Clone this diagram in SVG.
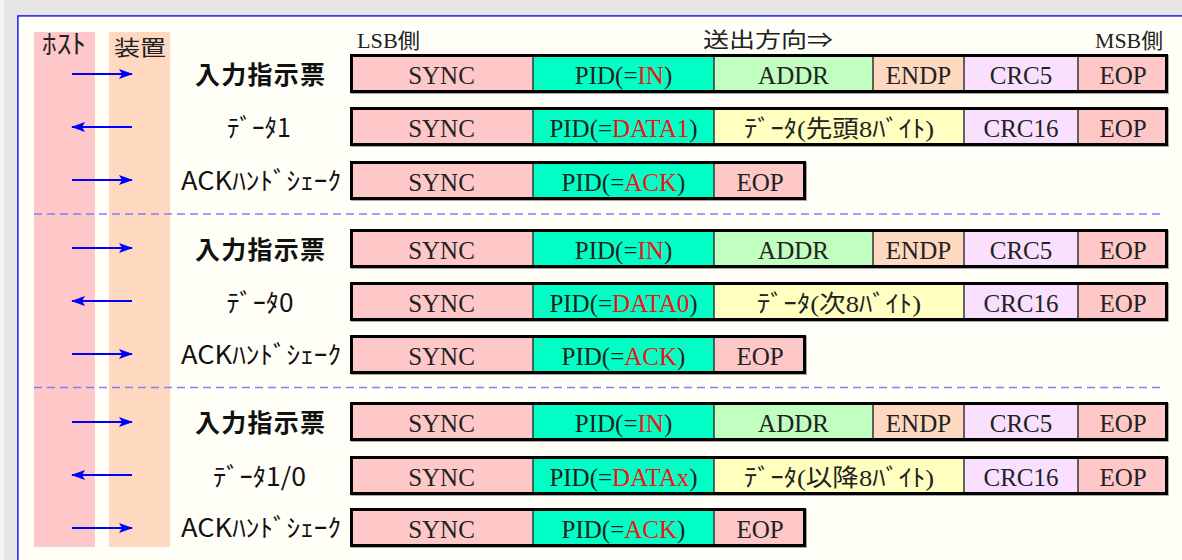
<svg xmlns="http://www.w3.org/2000/svg" width="1182" height="560" viewBox="0 0 1182 560">
<defs>
<style>
.sync{fill:#ffc8c8}
.pid{fill:#00ffc4}
.addr{fill:#c0ffc0}
.endp{fill:#ffd8c0}
.crc{fill:#fae0ff}
.eop{fill:#ffc8c8}
.data{fill:#ffffc0}
.box{fill:none;stroke:#000;stroke-width:3}
.shadow{fill:#a8a8a8}
.sep{stroke:#333;stroke-width:1.5}
.ft{font-family:"Liberation Serif","Noto Sans CJK JP",serif;font-size:25px;fill:#222;text-anchor:middle}
.fj{font-size:24px}
.red{fill:#ee1515}
.lbl{font-family:"Noto Sans CJK JP","Noto Sans",sans-serif;font-size:25px;fill:#111;text-anchor:middle}
.lblb{font-family:"Noto Sans CJK JP","Noto Sans",sans-serif;font-size:25px;font-weight:bold;fill:#111;text-anchor:middle}
.hdr{font-family:"Liberation Serif","Noto Sans CJK JP",serif;font-size:21px;fill:#222}
.arr{stroke:#0000ff;stroke-width:2;fill:none}
.dash{stroke:#7f7fff;stroke-width:1.5;stroke-dasharray:8 5;fill:none}
</style>
<marker id="ah" viewBox="0 0 14 10" refX="13" refY="5" markerWidth="14" markerHeight="10" markerUnits="userSpaceOnUse" orient="auto">
<path d="M0,0 L14,5 L0,10 L3,5 Z" fill="#0000ff"/>
</marker>
</defs>

<rect x="0" y="0" width="1182" height="560" fill="#e6e6e6"/>
<rect x="0" y="0" width="4" height="560" fill="#f4f4f4"/>
<path id="panel" d="M18,580 V16 H1200" fill="none" stroke="#0000ff" stroke-width="1.5"/>
<rect x="18.75" y="16.75" width="1200" height="600" fill="#fffff8"/>

<g id="columns">
<rect x="34" y="32" width="61" height="515" fill="#ffc8c8"/>
<rect x="109" y="32" width="61" height="515" fill="#ffd8c0"/>
<text x="64" y="54" font-family="Noto Sans CJK JP, sans-serif" font-size="27" fill="#222" text-anchor="middle" textLength="44" lengthAdjust="spacingAndGlyphs">ﾎｽﾄ</text>
<text x="140" y="55" class="hdr" text-anchor="middle" font-size="26" textLength="52" lengthAdjust="spacingAndGlyphs">装置</text>
</g>

<g id="header">
<text x="357" y="48" class="hdr" textLength="63" lengthAdjust="spacingAndGlyphs">LSB側</text>
<text x="703" y="47" class="hdr" font-size="26" textLength="130" lengthAdjust="spacingAndGlyphs">送出方向⇒</text>
<text x="1163" y="48" class="hdr" text-anchor="end" textLength="68" lengthAdjust="spacingAndGlyphs">MSB側</text>
</g>

<g id="connectors">
<line class="arr" x1="72" y1="74" x2="132" y2="74" marker-end="url(#ah)"/>
<line class="arr" x1="132" y1="127" x2="72" y2="127" marker-end="url(#ah)"/>
<line class="arr" x1="72" y1="180" x2="132" y2="180" marker-end="url(#ah)"/>
<line class="arr" x1="72" y1="248" x2="132" y2="248" marker-end="url(#ah)"/>
<line class="arr" x1="132" y1="301" x2="72" y2="301" marker-end="url(#ah)"/>
<line class="arr" x1="72" y1="354" x2="132" y2="354" marker-end="url(#ah)"/>
<line class="arr" x1="72" y1="422" x2="132" y2="422" marker-end="url(#ah)"/>
<line class="arr" x1="132" y1="475" x2="72" y2="475" marker-end="url(#ah)"/>
<line class="arr" x1="72" y1="528" x2="132" y2="528" marker-end="url(#ah)"/>
<line class="dash" x1="34" y1="214" x2="1160" y2="214"/>
<line class="dash" x1="34" y1="387.5" x2="1160" y2="387.5"/>
</g>

<!-- Section 1 -->
<g id="s1-in" transform="translate(0,54)">
<text x="260" y="30" class="lblb" textLength="130" lengthAdjust="spacing">入力指示票</text>
<rect class="shadow" x="351" y="1" width="818" height="39"/>
<rect class="sync" x="350" y="0" width="183" height="39"/>
<rect class="pid" x="533" y="0" width="181" height="39"/>
<rect class="addr" x="714" y="0" width="159" height="39"/>
<rect class="endp" x="873" y="0" width="91" height="39"/>
<rect class="crc" x="964" y="0" width="114" height="39"/>
<rect class="eop" x="1078" y="0" width="90" height="39"/>
<line class="sep" x1="533" y1="0" x2="533" y2="39"/><line class="sep" x1="714" y1="0" x2="714" y2="39"/><line class="sep" x1="873" y1="0" x2="873" y2="39"/><line class="sep" x1="964" y1="0" x2="964" y2="39"/><line class="sep" x1="1078" y1="0" x2="1078" y2="39"/>
<rect class="box" x="351.5" y="1.5" width="815" height="36"/>
<text class="ft" x="441.5" y="30">SYNC</text>
<text class="ft" x="623.5" y="30">PID(=<tspan class="red">IN</tspan>)</text>
<text class="ft" x="793.5" y="30">ADDR</text>
<text class="ft" x="918.5" y="30">ENDP</text>
<text class="ft" x="1021" y="30">CRC5</text>
<text class="ft" x="1123" y="30">EOP</text>
</g>

<g id="s1-data" transform="translate(0,107)">
<text x="259" y="30" class="lbl" textLength="64" lengthAdjust="spacingAndGlyphs">ﾃﾞｰﾀ1</text>
<rect class="shadow" x="351" y="1" width="818" height="39"/>
<rect class="sync" x="350" y="0" width="183" height="39"/>
<rect class="pid" x="533" y="0" width="181" height="39"/>
<rect class="data" x="714" y="0" width="250" height="39"/>
<rect class="crc" x="964" y="0" width="114" height="39"/>
<rect class="eop" x="1078" y="0" width="90" height="39"/>
<line class="sep" x1="533" y1="0" x2="533" y2="39"/><line class="sep" x1="714" y1="0" x2="714" y2="39"/><line class="sep" x1="964" y1="0" x2="964" y2="39"/><line class="sep" x1="1078" y1="0" x2="1078" y2="39"/>
<rect class="box" x="351.5" y="1.5" width="815" height="36"/>
<text class="ft" x="441.5" y="30">SYNC</text>
<text class="ft" x="623.5" y="30">PID(=<tspan class="red">DATA1</tspan>)</text>
<text class="ft fj" x="839" y="30" textLength="190" lengthAdjust="spacingAndGlyphs">ﾃﾞｰﾀ(先頭8ﾊﾞｲﾄ)</text>
<text class="ft" x="1021" y="30">CRC16</text>
<text class="ft" x="1123" y="30">EOP</text>
</g>

<g id="s1-ack" transform="translate(0,161)">
<text x="261" y="29" class="lbl" font-size="27" textLength="160" lengthAdjust="spacingAndGlyphs">ACKﾊﾝﾄﾞｼｪｰｸ</text>
<rect class="shadow" x="351" y="1" width="456" height="39"/>
<rect class="sync" x="350" y="0" width="183" height="39"/>
<rect class="pid" x="533" y="0" width="181" height="39"/>
<rect class="eop" x="714" y="0" width="92" height="39"/>
<line class="sep" x1="533" y1="0" x2="533" y2="39"/><line class="sep" x1="714" y1="0" x2="714" y2="39"/>
<rect class="box" x="351.5" y="1.5" width="453" height="36"/>
<text class="ft" x="441.5" y="30">SYNC</text>
<text class="ft" x="623.5" y="30">PID(=<tspan class="red">ACK</tspan>)</text>
<text class="ft" x="760" y="30">EOP</text>
</g>

<!-- Section 2 -->
<g id="s2-in" transform="translate(0,229)">
<text x="260" y="30" class="lblb" textLength="130" lengthAdjust="spacing">入力指示票</text>
<rect class="shadow" x="351" y="1" width="818" height="39"/>
<rect class="sync" x="350" y="0" width="183" height="39"/>
<rect class="pid" x="533" y="0" width="181" height="39"/>
<rect class="addr" x="714" y="0" width="159" height="39"/>
<rect class="endp" x="873" y="0" width="91" height="39"/>
<rect class="crc" x="964" y="0" width="114" height="39"/>
<rect class="eop" x="1078" y="0" width="90" height="39"/>
<line class="sep" x1="533" y1="0" x2="533" y2="39"/><line class="sep" x1="714" y1="0" x2="714" y2="39"/><line class="sep" x1="873" y1="0" x2="873" y2="39"/><line class="sep" x1="964" y1="0" x2="964" y2="39"/><line class="sep" x1="1078" y1="0" x2="1078" y2="39"/>
<rect class="box" x="351.5" y="1.5" width="815" height="36"/>
<text class="ft" x="441.5" y="30">SYNC</text>
<text class="ft" x="623.5" y="30">PID(=<tspan class="red">IN</tspan>)</text>
<text class="ft" x="793.5" y="30">ADDR</text>
<text class="ft" x="918.5" y="30">ENDP</text>
<text class="ft" x="1021" y="30">CRC5</text>
<text class="ft" x="1123" y="30">EOP</text>
</g>

<g id="s2-data" transform="translate(0,282)">
<text x="260" y="30" class="lbl" textLength="67" lengthAdjust="spacingAndGlyphs">ﾃﾞｰﾀ0</text>
<rect class="shadow" x="351" y="1" width="818" height="39"/>
<rect class="sync" x="350" y="0" width="183" height="39"/>
<rect class="pid" x="533" y="0" width="181" height="39"/>
<rect class="data" x="714" y="0" width="250" height="39"/>
<rect class="crc" x="964" y="0" width="114" height="39"/>
<rect class="eop" x="1078" y="0" width="90" height="39"/>
<line class="sep" x1="533" y1="0" x2="533" y2="39"/><line class="sep" x1="714" y1="0" x2="714" y2="39"/><line class="sep" x1="964" y1="0" x2="964" y2="39"/><line class="sep" x1="1078" y1="0" x2="1078" y2="39"/>
<rect class="box" x="351.5" y="1.5" width="815" height="36"/>
<text class="ft" x="441.5" y="30">SYNC</text>
<text class="ft" x="623.5" y="30">PID(=<tspan class="red">DATA0</tspan>)</text>
<text class="ft fj" x="839" y="30" textLength="164" lengthAdjust="spacingAndGlyphs">ﾃﾞｰﾀ(次8ﾊﾞｲﾄ)</text>
<text class="ft" x="1021" y="30">CRC16</text>
<text class="ft" x="1123" y="30">EOP</text>
</g>

<g id="s2-ack" transform="translate(0,335)">
<text x="261" y="29" class="lbl" font-size="27" textLength="160" lengthAdjust="spacingAndGlyphs">ACKﾊﾝﾄﾞｼｪｰｸ</text>
<rect class="shadow" x="351" y="1" width="456" height="39"/>
<rect class="sync" x="350" y="0" width="183" height="39"/>
<rect class="pid" x="533" y="0" width="181" height="39"/>
<rect class="eop" x="714" y="0" width="92" height="39"/>
<line class="sep" x1="533" y1="0" x2="533" y2="39"/><line class="sep" x1="714" y1="0" x2="714" y2="39"/>
<rect class="box" x="351.5" y="1.5" width="453" height="36"/>
<text class="ft" x="441.5" y="30">SYNC</text>
<text class="ft" x="623.5" y="30">PID(=<tspan class="red">ACK</tspan>)</text>
<text class="ft" x="760" y="30">EOP</text>
</g>

<!-- Section 3 -->
<g id="s3-in" transform="translate(0,402)">
<text x="260" y="30" class="lblb" textLength="130" lengthAdjust="spacing">入力指示票</text>
<rect class="shadow" x="351" y="1" width="818" height="39"/>
<rect class="sync" x="350" y="0" width="183" height="39"/>
<rect class="pid" x="533" y="0" width="181" height="39"/>
<rect class="addr" x="714" y="0" width="159" height="39"/>
<rect class="endp" x="873" y="0" width="91" height="39"/>
<rect class="crc" x="964" y="0" width="114" height="39"/>
<rect class="eop" x="1078" y="0" width="90" height="39"/>
<line class="sep" x1="533" y1="0" x2="533" y2="39"/><line class="sep" x1="714" y1="0" x2="714" y2="39"/><line class="sep" x1="873" y1="0" x2="873" y2="39"/><line class="sep" x1="964" y1="0" x2="964" y2="39"/><line class="sep" x1="1078" y1="0" x2="1078" y2="39"/>
<rect class="box" x="351.5" y="1.5" width="815" height="36"/>
<text class="ft" x="441.5" y="30">SYNC</text>
<text class="ft" x="623.5" y="30">PID(=<tspan class="red">IN</tspan>)</text>
<text class="ft" x="793.5" y="30">ADDR</text>
<text class="ft" x="918.5" y="30">ENDP</text>
<text class="ft" x="1021" y="30">CRC5</text>
<text class="ft" x="1123" y="30">EOP</text>
</g>

<g id="s3-data" transform="translate(0,456)">
<text x="259.5" y="30" class="lbl" textLength="93" lengthAdjust="spacingAndGlyphs">ﾃﾞｰﾀ1/0</text>
<rect class="shadow" x="351" y="1" width="818" height="39"/>
<rect class="sync" x="350" y="0" width="183" height="39"/>
<rect class="pid" x="533" y="0" width="181" height="39"/>
<rect class="data" x="714" y="0" width="250" height="39"/>
<rect class="crc" x="964" y="0" width="114" height="39"/>
<rect class="eop" x="1078" y="0" width="90" height="39"/>
<line class="sep" x1="533" y1="0" x2="533" y2="39"/><line class="sep" x1="714" y1="0" x2="714" y2="39"/><line class="sep" x1="964" y1="0" x2="964" y2="39"/><line class="sep" x1="1078" y1="0" x2="1078" y2="39"/>
<rect class="box" x="351.5" y="1.5" width="815" height="36"/>
<text class="ft" x="441.5" y="30">SYNC</text>
<text class="ft" x="623.5" y="30">PID(=<tspan class="red">DATAx</tspan>)</text>
<text class="ft fj" x="839" y="30" textLength="190" lengthAdjust="spacingAndGlyphs">ﾃﾞｰﾀ(以降8ﾊﾞｲﾄ)</text>
<text class="ft" x="1021" y="30">CRC16</text>
<text class="ft" x="1123" y="30">EOP</text>
</g>

<g id="s3-ack" transform="translate(0,508)">
<text x="261" y="29" class="lbl" font-size="27" textLength="160" lengthAdjust="spacingAndGlyphs">ACKﾊﾝﾄﾞｼｪｰｸ</text>
<rect class="shadow" x="351" y="1" width="456" height="39"/>
<rect class="sync" x="350" y="0" width="183" height="39"/>
<rect class="pid" x="533" y="0" width="181" height="39"/>
<rect class="eop" x="714" y="0" width="92" height="39"/>
<line class="sep" x1="533" y1="0" x2="533" y2="39"/><line class="sep" x1="714" y1="0" x2="714" y2="39"/>
<rect class="box" x="351.5" y="1.5" width="453" height="36"/>
<text class="ft" x="441.5" y="30">SYNC</text>
<text class="ft" x="623.5" y="30">PID(=<tspan class="red">ACK</tspan>)</text>
<text class="ft" x="760" y="30">EOP</text>
</g>
</svg>
